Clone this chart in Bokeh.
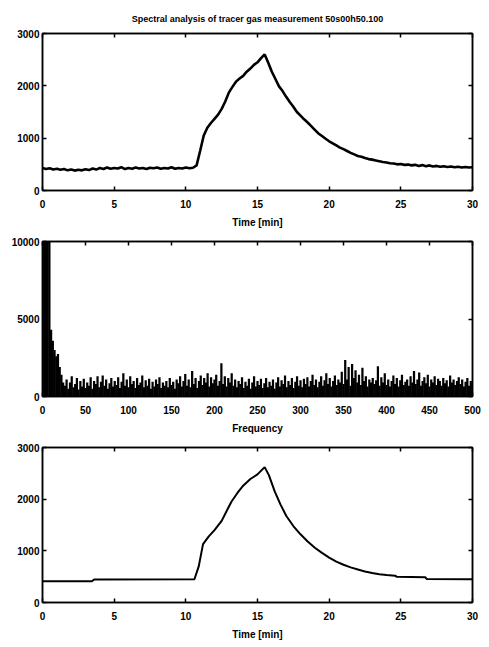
import numpy as np
from bokeh.plotting import figure
from bokeh.layouts import column
from bokeh.models import Range1d, LinearAxis, FixedTicker
from bokeh.embed import file_html
from bokeh.resources import INLINE

FONT = "Liberation Sans"

title_text = "Spectral analysis of tracer gas measurement 50s00h50.100"

# Panel 1: measured tracer gas concentration, samples every 0.25 min from 0 to 30
meas_values = [
    430, 410, 425, 400, 415, 395, 410, 385, 400, 380,
    395, 385, 405, 390, 420, 400, 430, 410, 440, 415,
    430, 420, 445, 410, 430, 415, 440, 420, 430, 410,
    435, 425, 440, 415, 430, 420, 445, 415, 430, 420,
    440, 425, 435,
    480, 760, 1050, 1200, 1290, 1370, 1450, 1560, 1700, 1870,
    1980, 2080, 2140, 2190, 2270, 2330, 2400, 2450, 2530, 2600,
    2440, 2270, 2130, 1990, 1900, 1790, 1690, 1600, 1500, 1430,
    1360, 1300, 1230, 1160, 1090, 1040, 990, 940, 900, 860,
    820, 790, 755, 720, 690, 660, 645, 620, 600, 590,
    575, 560, 545, 535, 520, 515, 500, 505, 490, 495,
    480, 490, 470, 485, 465, 480, 460, 470, 455, 465,
    450, 460, 445, 455, 440, 450, 440, 445,
]
meas_time = list(np.linspace(0, 30, len(meas_values)))

# Panel 2: amplitude spectrum, bins every 2 Hz from 0 to 500
spec_values = [
    30000, 30000, 30000, 12000, 10500, 4300, 3600, 3000, 2600, 2750,
    1900, 1400, 900,
    700, 1100, 500, 900, 1300, 600, 800, 1200, 450, 1000,
    650, 1150, 550, 900, 700, 1250, 500, 1000, 800, 1300,
    600, 950, 1350, 700, 1100, 500, 850, 1200, 650, 1000,
    750, 1250, 550, 950, 1500, 700, 1100, 600, 1300, 800,
    1000, 550, 1200, 750, 900, 1350, 600, 1050, 700, 1150,
    500, 950, 650, 1100, 800, 1250, 550, 900, 700, 1000,
    600, 1200, 750, 950, 500, 1100, 850, 1300, 650, 1000,
    1450, 700, 1100, 600, 1650, 800, 1200, 550, 1000, 1350,
    750, 1200, 900, 1500, 650, 1250, 850, 1100, 1400, 700,
    1000, 2150, 800, 1300, 650, 1200, 900, 1500, 700, 1100,
    600, 1000, 800, 1250, 550, 950, 700, 1150, 500, 900,
    1300, 650, 1000, 750, 1150, 550, 850, 1200, 600, 950,
    700, 1100, 500, 900, 1250, 650, 1050, 800, 1350, 600,
    1000, 750, 1200, 550, 950, 1300, 700, 1050, 600, 1150,
    800, 1250, 650, 1000, 1400, 750, 1100, 600, 950, 1300,
    700, 1050, 1500, 800, 1200, 650, 1000, 1350, 750, 1100,
    900, 1600, 800, 2350, 1100, 1900, 700, 2100, 1200, 1700,
    900, 1400, 750, 1850, 1000, 1300, 650, 1100, 900, 1200,
    800, 1050, 1950, 700, 1250, 900, 1500, 750, 1100, 650,
    1000, 1350, 800, 1200, 650, 1050, 1400, 750, 950, 1100,
    700, 1300, 900, 1650, 800, 1100, 1550, 700, 1000, 1250,
    850, 1400, 650, 1100, 900, 1300, 750, 1150, 1000, 700,
    1200, 850, 1050, 650, 1350, 900, 1100, 750, 1000, 1250,
    800, 1100, 650, 950, 1200, 700, 1000, 850,
]
spec_freq = [2 * i for i in range(len(spec_values))]

# Panel 3: filtered signal
filt_time = [0, 3.45, 3.6, 10.6, 10.9, 11.2, 11.6, 12.0, 12.5, 12.9, 13.2, 13.6,
             14.0, 14.5, 15.0, 15.5, 15.8, 16.2, 16.6, 17.0, 17.5, 18.0, 18.5,
             19.0, 19.5, 20.0, 20.5, 21.0, 21.5, 22.0, 22.5, 23.0, 23.5, 24.0,
             24.6, 24.7, 26.7, 26.8, 30]
filt_values = [410, 410, 445, 450, 700, 1130, 1280, 1400, 1580, 1800, 1960, 2120,
               2260, 2390, 2480, 2620, 2460, 2150, 1900, 1680, 1480, 1320, 1180,
               1060, 960, 870, 790, 730, 680, 640, 600, 570, 545, 530,
               520, 500, 490, 455, 450]

time_ticks = [0, 5, 10, 15, 20, 25, 30]
freq_ticks = [0, 50, 100, 150, 200, 250, 300, 350, 400, 450, 500]
conc_ticks = [0, 1000, 2000, 3000]
spec_ticks = [0, 5000, 10000]


def make(height, top, bottom, xr, yr, xt, yt, xlabel, title=None):
    kw = dict(width=489, height=height, x_range=Range1d(*xr), y_range=Range1d(*yr),
              output_backend="svg", toolbar_location=None,
              min_border_left=42, min_border_right=17,
              min_border_top=top, min_border_bottom=bottom,
              background_fill_color="white", border_fill_color="white")
    if title:
        kw["title"] = title
    p = figure(**kw)
    p.grid.visible = False
    p.outline_line_color = "black"
    p.outline_line_width = 1.5
    if title:
        p.title.text_font = FONT
        p.title.text_font_size = "9px"
        p.title.text_font_style = "bold"
        p.title.align = "center"
        p.title.text_color = "black"
        p.title.padding = 5
    p.add_layout(LinearAxis(), "above")
    p.add_layout(LinearAxis(), "right")
    for ax in p.xaxis:
        ax.ticker = FixedTicker(ticks=xt)
    for ax in p.yaxis:
        ax.ticker = FixedTicker(ticks=yt)
    for ax in p.axis:
        ax.axis_line_color = "black"
        ax.axis_line_width = 1.5
        ax.major_tick_line_color = "black"
        ax.major_tick_line_width = 1.5
        ax.major_tick_in = 4
        ax.major_tick_out = 0
        ax.minor_tick_line_color = None
        ax.major_label_text_font = FONT
        ax.major_label_text_font_style = "bold"
        ax.major_label_text_font_size = "10px"
        ax.major_label_text_color = "black"
    p.below[0].major_label_standoff = 9
    p.below[0].axis_label = xlabel
    p.below[0].axis_label_text_font = FONT
    p.below[0].axis_label_text_font_style = "bold"
    p.below[0].axis_label_text_font_size = "10px"
    p.below[0].axis_label_text_color = "black"
    p.below[0].axis_label_standoff = 6
    p.left[0].major_label_standoff = 3
    p.above[-1].major_label_overrides = {t: "" for t in xt}
    p.right[-1].major_label_overrides = {t: "" for t in yt}
    for ax in (p.above[-1], p.right[-1]):
        ax.major_label_standoff = 0
    return p


p1 = make(236, 33, 46, (0, 30), (0, 3000), time_ticks, conc_ticks, "Time [min]", title_text)
p1.line(meas_time, meas_values, line_color="black", line_width=2.6)

p2 = make(205, 5, 45, (0, 500), (0, 10000), freq_ticks, spec_ticks, "Frequency")
p2.vbar(x=spec_freq, top=spec_values, width=2.6, bottom=0, fill_color="black", line_color=None)

p3 = make(206, 6, 45, (0, 30), (0, 3000), time_ticks, conc_ticks, "Time [min]")
p3.line(filt_time, filt_values, line_color="black", line_width=2)

layout = column(p1, p2, p3, spacing=0)
open("out.html", "w").write(file_html(layout, INLINE))
